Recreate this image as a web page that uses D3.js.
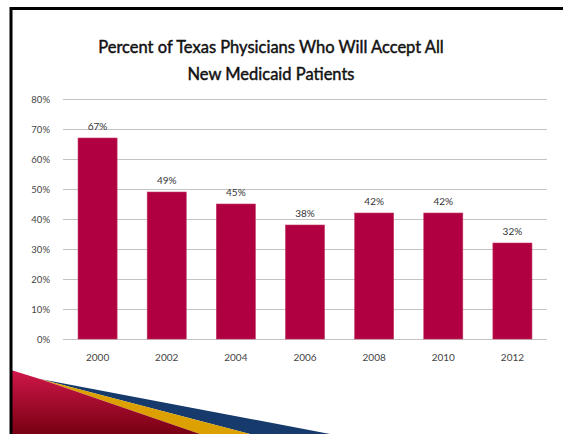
<!DOCTYPE html>
<meta charset="utf-8">
<style>
  body { margin: 0; background: #fff; }
  text { font-family: Lato, "Open Sans", sans-serif; }
</style>
<script src="https://d3js.org/d3.v7.min.js"></script>
<div id="chart"></div>
<script>
// data
const years = ["2000", "2002", "2004", "2006", "2008", "2010", "2012"];
const pctAccept = [67, 49, 45, 38, 42, 42, 32];
const yTicks = [0, 10, 20, 30, 40, 50, 60, 70, 80];
const titleLines = ["Percent of Texas Physicians Who Will Accept All", "New Medicaid Patients"];

const W = 563, H = 434;
const plot = {left: 63, right: 547, top: 99, bottom: 339};

const svg = d3.select("#chart").append("svg")
  .attr("width", W).attr("height", H);

// gradient for the red swoosh
const defs = svg.append("defs");
const grad = defs.append("linearGradient").attr("id", "redGrad")
  .attr("x1", 0).attr("y1", 0).attr("x2", 0).attr("y2", 1);
grad.append("stop").attr("offset", "0%").attr("stop-color", "#d0174a");
grad.append("stop").attr("offset", "100%").attr("stop-color", "#780012");

// decorative swoosh at the bottom left
svg.append("path")
  .attr("d", "M40,379 L330,434 L250,434 Z")
  .attr("fill", "#153a6b");
svg.append("path")
  .attr("d", "M40,379 L250,434 L200,434 Z")
  .attr("fill", "#dca000");
svg.append("path")
  .attr("d", "M11,370 L40,379 L200,434 L11,434 Z")
  .attr("fill", "url(#redGrad)");

// slide frame
svg.append("line").attr("x1", 10).attr("x2", W).attr("y1", 8.5).attr("y2", 8.5)
  .attr("stroke", "#000").attr("stroke-width", 3);
svg.append("line").attr("x1", 11).attr("x2", 11).attr("y1", 7).attr("y2", H)
  .attr("stroke", "#000").attr("stroke-width", 3);

// title
svg.selectAll(".title").data(titleLines).enter().append("text")
  .attr("class", "title")
  .attr("x", 271)
  .attr("y", (d, i) => 53 + i * 27)
  .attr("text-anchor", "middle")
  .style("font-size", "16.5px")
  .style("fill", "#111")
  .style("stroke", "#111")
  .style("stroke-width", 0.45)
  .text(d => d);

const x = d3.scaleBand()
  .domain(years)
  .range([plot.left, plot.right])
  .paddingInner(0.435)
  .paddingOuter(0.2175);

const y = d3.scaleLinear()
  .domain([0, 80])
  .range([plot.bottom, plot.top]);

// gridlines
svg.append("g").selectAll("line").data(yTicks).enter().append("line")
  .attr("x1", plot.left).attr("x2", plot.right)
  .attr("y1", d => Math.round(y(d)) + 0.5).attr("y2", d => Math.round(y(d)) + 0.5)
  .attr("stroke", "#c4c4c4").attr("stroke-width", 1);

// y axis labels
const yAxis = svg.append("g")
  .attr("transform", "translate(" + (plot.left - 10) + ",0)")
  .call(d3.axisLeft(y).tickValues(yTicks).tickSize(0).tickFormat(d => d + "%"));
yAxis.select(".domain").remove();
yAxis.selectAll("text")
  .style("font-size", "9.5px").style("fill", "#444")
  .style("font-family", "Lato, 'Open Sans', sans-serif");

// x axis labels
const xAxis = svg.append("g")
  .attr("transform", "translate(0," + (plot.bottom + 12) + ")")
  .call(d3.axisBottom(x).tickSize(0));
xAxis.select(".domain").remove();
xAxis.selectAll("text")
  .style("font-size", "10px").style("fill", "#444")
  .style("font-family", "Lato, 'Open Sans', sans-serif");

// bars
svg.append("g").selectAll("rect").data(pctAccept).enter().append("rect")
  .attr("x", (d, i) => x(years[i]))
  .attr("width", x.bandwidth())
  .attr("y", d => y(d))
  .attr("height", d => plot.bottom - y(d))
  .attr("fill", "#b00042")
  .attr("stroke", "#c23a63")
  .attr("stroke-width", 0.6);

// value labels
svg.append("g").selectAll("text").data(pctAccept).enter().append("text")
  .attr("x", (d, i) => x(years[i]) + x.bandwidth() / 2)
  .attr("y", d => y(d) - 8)
  .attr("text-anchor", "middle")
  .style("font-size", "10px")
  .style("fill", "#333")
  .text(d => d + "%");
</script>
